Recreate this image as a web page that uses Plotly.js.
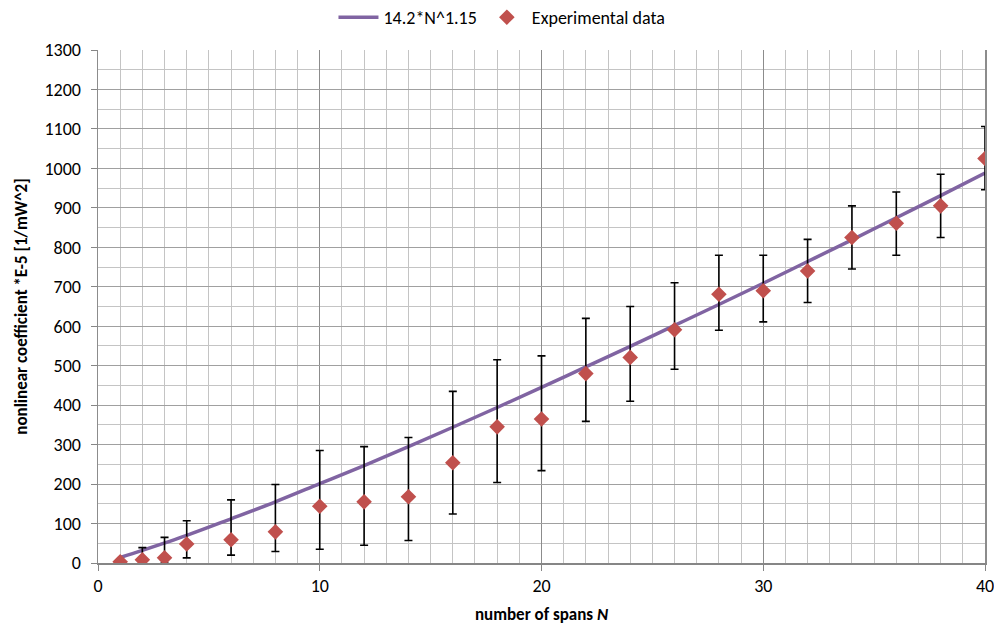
<!DOCTYPE html>
<html>
<head>
<meta charset="utf-8">
<script src="https://cdn.plot.ly/plotly-3.0.1.min.js"></script>
<style>html,body{margin:0;padding:0;background:#fff;}#chart{width:994px;height:625px;}</style>
</head>
<body>
<div id="chart"></div>
<script>
// Fitted curve 14.2*N^1.15
var fitN = [1, 2, 4, 6, 8, 10, 12, 14, 16, 18, 20, 22, 24, 26, 28, 30, 32, 34, 36, 38, 40];
var fitY = [14, 32, 70, 112, 155, 201, 247, 295, 344, 394, 445, 497, 549, 602, 655, 709, 764, 819, 875, 931, 988];

// Experimental data
var expN = [1, 2, 3, 4, 6, 8, 10, 12, 14, 16, 18, 20, 22, 24, 26, 28, 30, 32, 34, 36, 38, 40];
var expY = [3, 8, 13, 48, 59, 79, 144, 155, 168, 254, 345, 365, 480, 521, 591, 681, 690, 740, 825, 861, 905, 1025];
var errTop = [3, 39, 65, 107, 160, 199, 285, 295, 318, 435, 515, 525, 620, 650, 710, 780, 780, 820, 905, 940, 985, 1106];
var errBottom = [3, 0, 0, 13, 20, 29, 35, 45, 57, 124, 204, 234, 359, 410, 491, 590, 611, 660, 745, 780, 825, 946];

var plus = expY.map(function (v, i) { return errTop[i] - v; });
var minus = expY.map(function (v, i) { return v - errBottom[i]; });

var FONT = 'Carlito, Lato, "Open Sans", sans-serif';

var traces = [
  {
    x: fitN, y: fitY, type: 'scatter', mode: 'lines', name: '14.2*N^1.15',
    line: {color: '#8064A2', width: 3.5, shape: 'spline'}
  },
  {
    x: expN, y: expY, type: 'scatter', mode: 'markers', name: 'Experimental data',
    marker: {symbol: 'diamond', size: 12, color: '#C0504D'},
    error_y: {type: 'data', symmetric: false, array: plus, arrayminus: minus,
              color: '#000000', thickness: 1.6, width: 4}
  }
];

var layout = {
  width: 994, height: 625,
  margin: {l: 98, r: 9, t: 50, b: 62, autoexpand: false},
  paper_bgcolor: '#ffffff', plot_bgcolor: '#ffffff',
  font: {family: FONT, size: 18, color: '#000000'},
  showlegend: true,
  legend: {orientation: 'h', x: 0.505, xanchor: 'center', xref: 'container',
           y: 0.972, yanchor: 'middle', yref: 'container',
           font: {family: FONT, size: 18, color: '#000'}, traceorder: 'normal',
           itemwidth: 40, tracegroupgap: 0},
  xaxis: {
    range: [0, 40], dtick: 10, tick0: 0, automargin: false,
    ticklabeloverflow: 'allow',
    showgrid: true, gridcolor: '#8C8C8C', gridwidth: 1,
    minor: {dtick: 1, showgrid: true, gridcolor: '#C4C4C4', gridwidth: 1, ticks: ''},
    showline: true, linecolor: '#868686', linewidth: 1.5,
    ticks: 'outside', ticklen: 6, tickcolor: '#868686', tickwidth: 1,
    zeroline: false, mirror: false,
    tickfont: {family: FONT, size: 18},
    title: {text: '<b>number of spans <i>N</i></b>', font: {family: FONT, size: 17}, standoff: 20}
  },
  yaxis: {
    range: [0, 1300], dtick: 100, tick0: 0, automargin: false,
    showgrid: true, gridcolor: '#A0A0A0', gridwidth: 1,
    minor: {dtick: 50, showgrid: true, gridcolor: '#C4C4C4', gridwidth: 1, ticks: ''},
    showline: true, linecolor: '#8C8C8C', linewidth: 1.5, mirror: true,
    ticks: 'outside', ticklen: 6, tickcolor: '#868686', tickwidth: 1,
    zeroline: false,
    ticklabelstandoff: 6,
    tickfont: {family: FONT, size: 18},
    title: {text: '<b>nonlinear coefficient *E-5 [1/mW^2]</b>', font: {family: FONT, size: 17}, standoff: 12}
  }
};

Plotly.newPlot('chart', traces, layout, {displayModeBar: false, staticPlot: true});
</script>
</body>
</html>
